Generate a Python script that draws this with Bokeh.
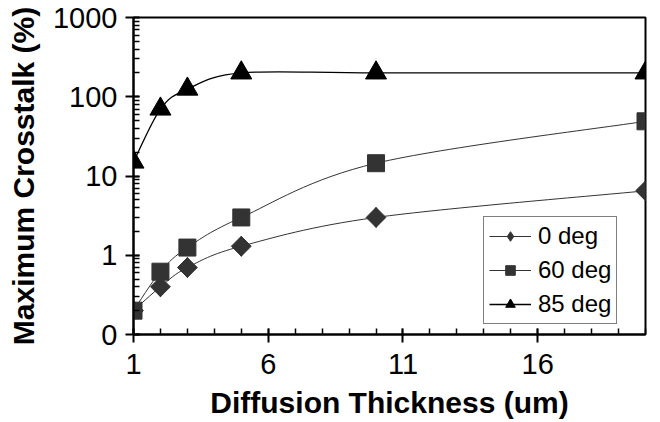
import math
from bokeh.plotting import figure
from bokeh.models import FixedTicker, Legend, LegendItem, ColumnDataSource
from bokeh.embed import file_html
from bokeh.resources import INLINE

# ---- data ----
x_um = [1, 2, 3, 5, 10, 20]
deg0 = [0.2, 0.4, 0.7, 1.3, 3.0, 6.5]
deg60 = [0.2, 0.62, 1.25, 3.0, 14.5, 49]
deg85 = [15, 70, 125, 200, 200, 200]
series_names = ["0 deg", "60 deg", "85 deg"]
y_ticks = [0.1, 1, 10, 100, 1000]
y_tick_labels = ["0", "1", "10", "100", "1000"]
x_ticks = [1, 6, 11, 16]

FONT = "Liberation Sans"

p = figure(width=660, height=422, y_axis_type="log",
           x_range=(1, 20), y_range=(0.1, 1000),
           output_backend="svg", toolbar_location=None,
           min_border_left=133, min_border_top=17, min_border_right=15,
           min_border_bottom=88)
p.grid.visible = False
p.outline_line_color = "black"
p.outline_line_width = 2
p.background_fill_color = "white"
p.border_fill_color = "white"


def smooth(xs, ys):
    """Catmull-Rom style bezier segments in (linear x, log y) space."""
    ly = [math.log10(v) for v in ys]
    n = len(xs)
    out = dict(x0=[], y0=[], x1=[], y1=[], cx0=[], cy0=[], cx1=[], cy1=[])
    for i in range(n - 1):
        i0 = max(i - 1, 0)
        i3 = min(i + 2, n - 1)
        c1x = xs[i] + (xs[i + 1] - xs[i0]) / 6.0
        c1y = ly[i] + (ly[i + 1] - ly[i0]) / 6.0
        c2x = xs[i + 1] - (xs[i3] - xs[i]) / 6.0
        c2y = ly[i + 1] - (ly[i3] - ly[i]) / 6.0
        out["x0"].append(xs[i]); out["y0"].append(ys[i])
        out["x1"].append(xs[i + 1]); out["y1"].append(ys[i + 1])
        out["cx0"].append(c1x); out["cy0"].append(10 ** c1y)
        out["cx1"].append(c2x); out["cy1"].append(10 ** c2y)
    return ColumnDataSource(out)


styles = [
    (deg0, "#333333", 1, "diamond", 20),
    (deg60, "#333333", 1, "square", 17),
    (deg85, "black", 1.3, "triangle", 21),
]
items = []
for (ys, col, lw, marker, size), name in zip(styles, series_names):
    src = smooth(x_um, ys)
    bz = p.bezier(x0="x0", y0="y0", x1="x1", y1="y1", cx0="cx0", cy0="cy0",
                  cx1="cx1", cy1="cy1", source=src, line_color=col, line_width=lw)
    sc = p.scatter(x_um, ys, marker=marker, size=size,
                   fill_color=col, line_color=col)
    if marker == "diamond":
        # full-width diamond (square turned 45 degrees) over the legend glyph
        p.scatter(x_um, ys, marker="square", size=14, angle=math.pi / 4,
                  fill_color=col, line_color=col)
    items.append(LegendItem(label=name, renderers=[bz, sc]))

legend = Legend(items=items, location=(350, 10))
legend.label_text_font = FONT
legend.label_text_font_size = "24px"
legend.label_text_color = "black"
legend.border_line_color = "black"
legend.border_line_width = 1.5
legend.background_fill_color = "white"
legend.background_fill_alpha = 1
legend.glyph_width = 42
legend.glyph_height = 24
legend.label_height = 24
legend.label_standoff = 7
legend.spacing = 6
legend.padding = 5
legend.margin = 0
p.add_layout(legend, "center")

# axes
p.xaxis.ticker = FixedTicker(ticks=x_ticks, minor_ticks=list(range(1, 21)))
p.yaxis.ticker = FixedTicker(
    ticks=y_ticks,
    minor_ticks=[m * 10 ** e for e in range(-1, 3) for m in range(1, 10)])
p.yaxis.major_label_overrides = {t: l for t, l in zip(y_ticks, y_tick_labels)}

for ax in (p.xaxis[0], p.yaxis[0]):
    ax.axis_line_width = 2
    ax.axis_line_color = "black"
    ax.major_tick_line_width = 2
    ax.major_tick_line_color = "black"
    ax.minor_tick_line_width = 1.5
    ax.minor_tick_line_color = "black"
    ax.major_tick_out = 8
    ax.major_tick_in = 6
    ax.minor_tick_out = 0
    ax.minor_tick_in = 6
    ax.major_label_text_font = FONT
    ax.major_label_text_font_size = "29px"
    ax.major_label_text_color = "black"
    ax.axis_label_text_font = FONT
    ax.axis_label_text_font_style = "bold"
    ax.axis_label_text_font_size = "30px"
    ax.axis_label_text_color = "black"

p.xaxis.axis_label = "Diffusion Thickness (um)"
p.yaxis.axis_label = "Maximum Crosstalk (%)"
p.xaxis.major_label_standoff = 11
p.yaxis.major_label_standoff = 8
p.xaxis.axis_label_standoff = 9
p.yaxis.axis_label_standoff = 10

open("out.html", "w").write(file_html(p, INLINE))
